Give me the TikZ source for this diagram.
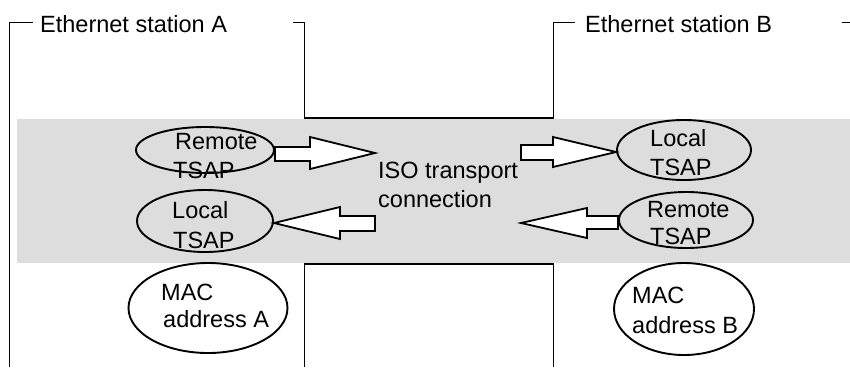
\documentclass[tikz,border=0pt]{standalone}
\usepackage{fontspec}
\setmainfont{Liberation Sans}
\usetikzlibrary{shapes.geometric}
\definecolor{bandgray}{RGB}{221,221,221}
\tikzset{
  frameline/.style={line width=1pt, black},
  chanline/.style={line width=2pt, black},
  tsap/.style={draw, ellipse, line width=1.9pt, inner sep=0pt},
  lbl/.style={anchor=base west, inner sep=0pt, font=\fontsize{23.5}{28}\selectfont},
  blockarrow/.style={draw, fill=white, line width=1.8pt, line join=miter},
}
\begin{document}
\begin{tikzpicture}[x=1pt,y=-1pt]
\useasboundingbox (0,0) rectangle (850,367);
% gray band
\fill[bandgray] (17,119) rectangle (850,263);
% frames
\draw[frameline] (33,22.5) -- (9.5,22.5) -- (9.5,367);
\draw[frameline] (293,22.5) -- (304.5,22.5) -- (304.5,118);
\draw[frameline] (575,22.5) -- (553.5,22.5) -- (553.5,118);
\draw[frameline] (842,22.5) -- (850,22.5);
\draw[chanline] (304,118) -- (554,118);
\draw[chanline] (304,264) -- (554,264);
\draw[frameline] (304.5,264) -- (304.5,367);
\draw[frameline] (553.5,264) -- (553.5,367);
\node[lbl] (sa) at (40,32) {Ethernet station A};
\node[lbl] (sb) at (585,32) {Ethernet station B};
% ellipses
\node[tsap, minimum width=138pt, minimum height=46pt] (rA) at (205,150) {};
\node[tsap, minimum width=136pt, minimum height=62pt] (lA) at (205,221) {};
\node[tsap, minimum width=134pt, minimum height=60pt] (lB) at (684,150) {};
\node[tsap, minimum width=134pt, minimum height=56pt] (rB) at (686,220) {};
\node[tsap, minimum width=159pt, minimum height=90pt] (mA) at (208,308) {};
\node[tsap, minimum width=140pt, minimum height=92pt] (mB) at (684,309) {};
% labels
\node[lbl] (rA1) at (175,149) {Remote};
\node[lbl] (rA2) at (173,178) {TSAP};
\node[lbl] (lA1) at (172,218) {Local};
\node[lbl] (lA2) at (173,248) {TSAP};
\node[lbl] (lB1) at (650,146) {Local};
\node[lbl] (lB2) at (650,175) {TSAP};
\node[lbl] (rB1) at (647,217) {Remote};
\node[lbl] (rB2) at (650,244) {TSAP};
\node[lbl] (mA1) at (161,300) {MAC};
\node[lbl] (mA2) at (163,327) {address A};
\node[lbl] (mB1) at (632,303) {MAC};
\node[lbl] (mB2) at (632,333) {address B};
\node[lbl] (iso1) at (378,178) {ISO transport};
\node[lbl] (iso2) at (378,207) {connection};
% block arrows
\draw[blockarrow] (rA.east |- 0,147) -- (310,147) -- (310,137) -- (375,153) -- (310,169) -- (310,161) -- (rA.east |- 0,161) -- cycle;
\draw[blockarrow] (375,216) -- (340,216) -- (340,207) -- (lA.east |- 0,223) -- (340,239) -- (340,231) -- (375,231) -- cycle;
\draw[blockarrow] (521,145) -- (553,145) -- (553,137) -- (lB.west |- 0,152) -- (553,167) -- (553,160) -- (521,160) -- cycle;
\draw[blockarrow] (rB.west |- 0,216) -- (587,216) -- (587,208) -- (521,223) -- (587,238) -- (587,229) -- (rB.west |- 0,229) -- cycle;
\end{tikzpicture}
\end{document}
